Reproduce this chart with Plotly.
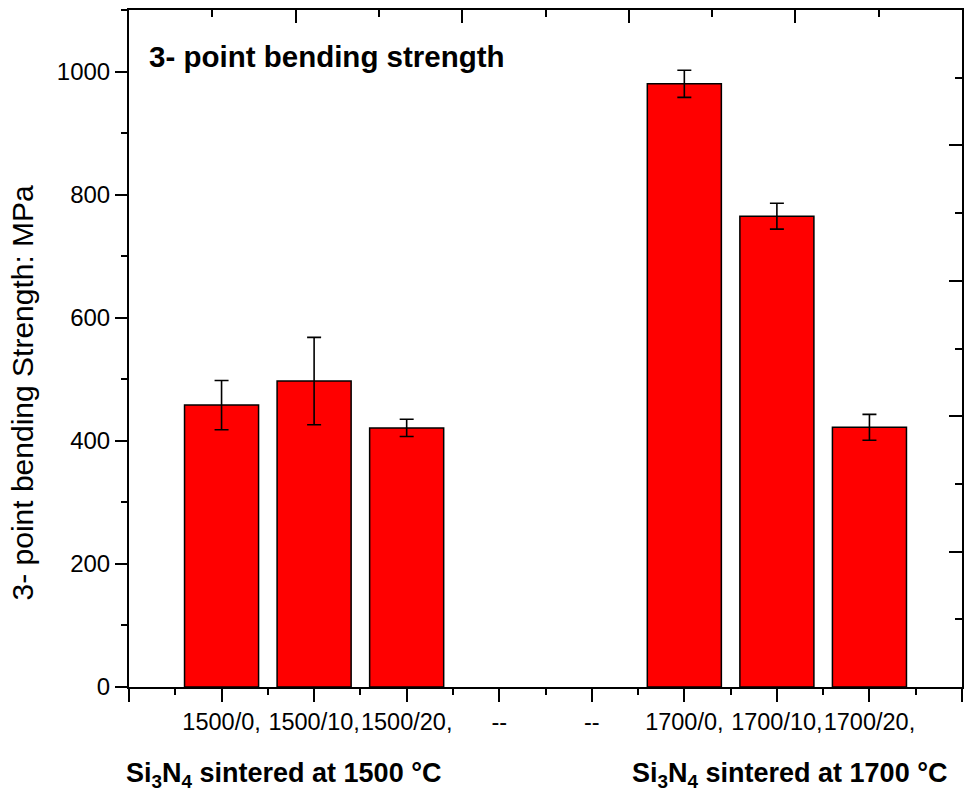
import plotly.graph_objects as go

# ---- data ----
categories = ["1500/0,", "1500/10,", "1500/20,", "--", "--", "1700/0,", "1700/10,", "1700/20,"]
strength = [458, 497, 421, None, None, 980, 765, 422]
strength_err = [40, 71, 14, None, None, 22, 21, 21]
y_ticks = [0, 200, 400, 600, 800, 1000]
title_text = "3- point bending strength"
y_title = "3- point bending Strength: MPa"
group_labels = ["Si<sub>3</sub>N<sub>4</sub> sintered at 1500 °C",
                "Si<sub>3</sub>N<sub>4</sub> sintered at 1700 °C"]

positions = list(range(1, len(categories) + 1))
FONT = "Liberation Sans, Arial, Helvetica, sans-serif"

fig = go.Figure()
fig.add_trace(go.Bar(
    x=positions, y=strength, width=0.8,
    marker=dict(color="#FF0000", line=dict(color="black", width=1.5)),
    error_y=dict(type="data", array=strength_err, color="black", thickness=1.6, width=7),
    showlegend=False, hoverinfo="skip",
))
# empty trace so that the opposite (top/right) frame axes are drawn
fig.add_trace(go.Scatter(x=[], y=[], xaxis="x2", yaxis="y2", showlegend=False,
                         hoverinfo="skip"))

axis_common = dict(showline=True, linecolor="black", linewidth=2, showgrid=False,
                   zeroline=False, tickcolor="black", tickwidth=2)

fig.update_layout(
    width=968, height=804,
    margin=dict(l=129, r=6, t=10, b=117),
    paper_bgcolor="white", plot_bgcolor="white",
    font=dict(family=FONT, color="black", size=24),
    xaxis=dict(
        **axis_common,
        range=[0, len(categories) + 1],
        tickmode="array",
        tickvals=[0] + positions + [len(categories) + 1],
        ticktext=[""] + categories + [""],
        ticks="outside", ticklen=13, tickangle=0,
        minor=dict(tickvals=[p - 0.5 for p in positions] + [len(categories) + 0.5],
                   ticks="outside", ticklen=6, tickwidth=2, tickcolor="black", showgrid=False),
        tickfont=dict(size=23.5),
    ),
    yaxis=dict(
        **axis_common,
        range=[0, 1100],
        tickmode="array", tickvals=y_ticks,
        ticks="outside", ticklen=12,
        minor=dict(dtick=100, ticks="outside", ticklen=6, tickwidth=2, tickcolor="black", showgrid=False),
        tickfont=dict(size=24),
    ),
    xaxis2=dict(
        **axis_common, overlaying="x", side="top", anchor="y2",
        range=[0, 10], dtick=2, tick0=0, ticks="inside", ticklen=13,
        minor=dict(dtick=1, ticks="inside", ticklen=7, tickwidth=2, tickcolor="black", showgrid=False),
        showticklabels=False,
    ),
    yaxis2=dict(
        **axis_common, overlaying="y", side="right", anchor="x2",
        range=[0, 10], dtick=2, tick0=0, ticks="inside", ticklen=13,
        minor=dict(dtick=1, ticks="inside", ticklen=7, tickwidth=2, tickcolor="black", showgrid=False),
        showticklabels=False,
    ),
    hovermode=False,
)

# y-axis title (placed as rotated text to match the reference's off-centre position)
fig.add_annotation(text=y_title, xref="paper", yref="paper", textangle=-90,
                   x=-0.1273, y=0.435, xanchor="center", yanchor="middle", showarrow=False,
                   font=dict(size=30, family=FONT))
fig.add_annotation(text="<b>" + title_text + "</b>", xref="paper", yref="paper",
                   x=0.0216, y=0.9306, xanchor="left", yanchor="middle", showarrow=False,
                   font=dict(size=29.5, family=FONT))
for xp, lab in zip([0.185, 0.7935], group_labels):
    fig.add_annotation(text="<b>" + lab + "</b>", xref="paper", yref="paper",
                       x=xp, y=-0.13, xanchor="center", yanchor="middle", showarrow=False,
                       font=dict(size=27, family=FONT))

fig.write_html("out.html", config={"displayModeBar": False})
